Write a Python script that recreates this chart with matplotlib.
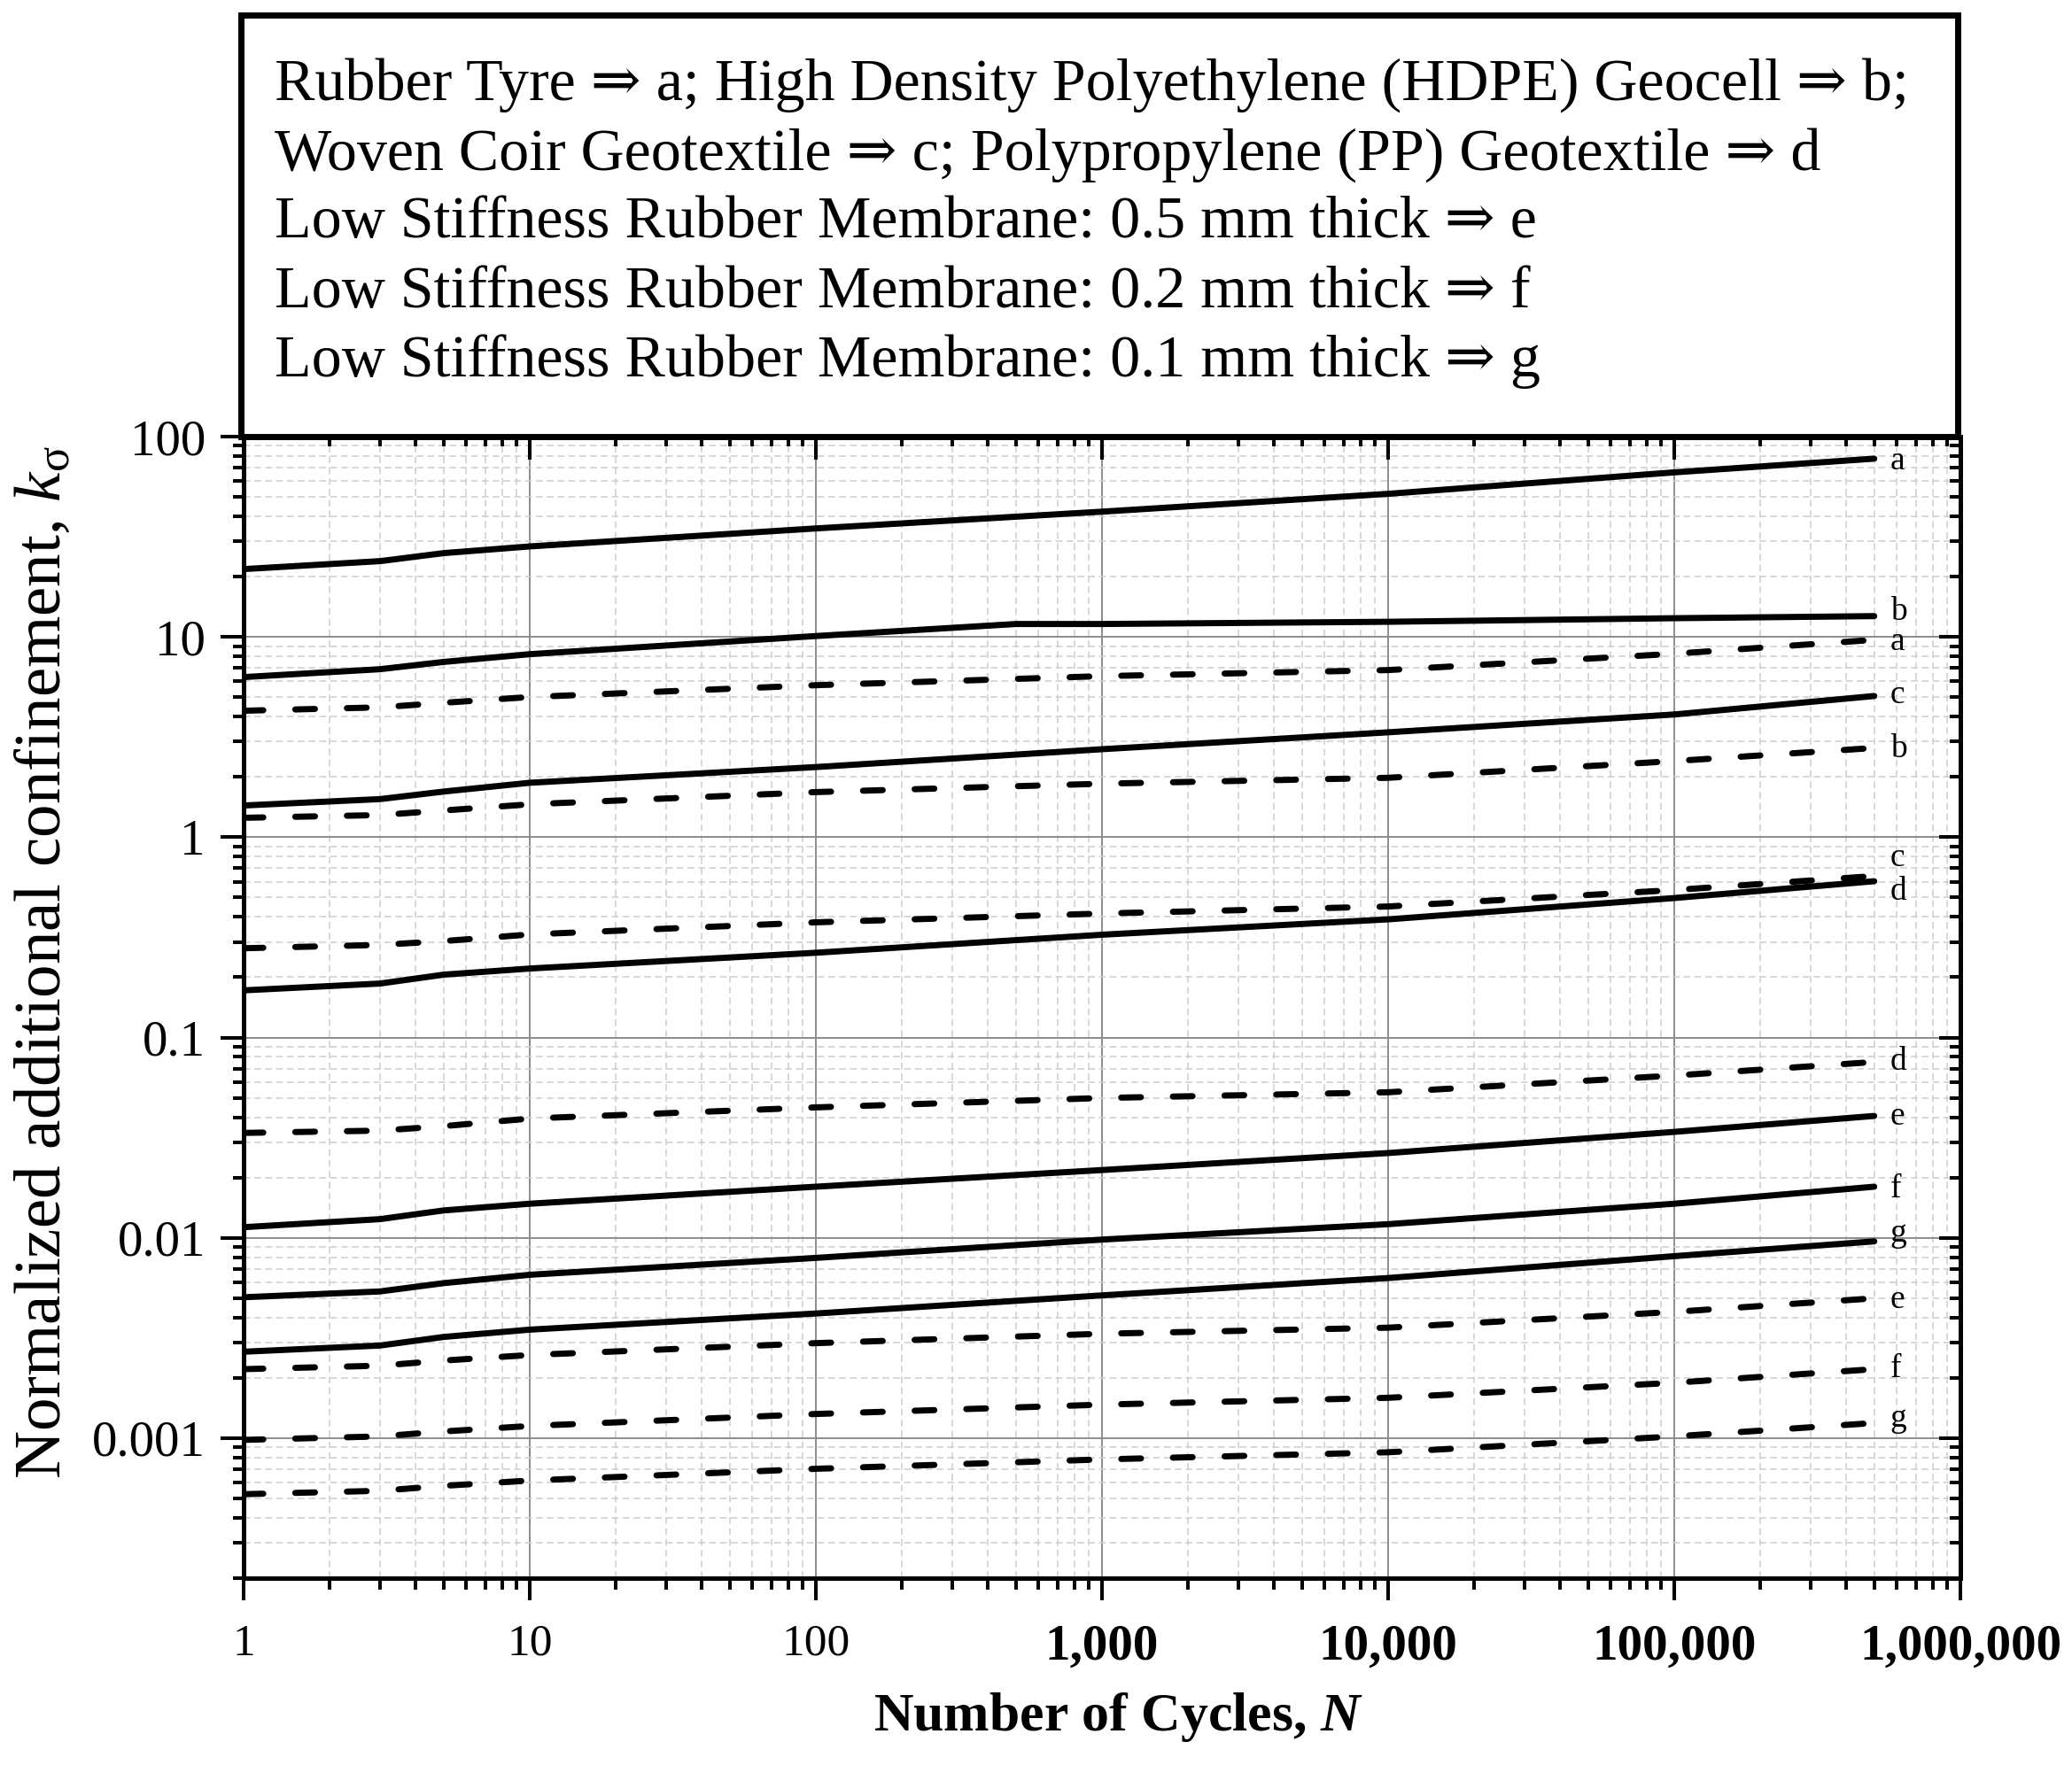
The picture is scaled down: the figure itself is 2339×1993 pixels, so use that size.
import numpy as np
import matplotlib
matplotlib.use('Agg')
import matplotlib.pyplot as plt
from matplotlib.ticker import LogLocator, NullFormatter, FixedLocator
from matplotlib.patches import Rectangle

plt.rcParams['font.family'] = ['Liberation Serif', 'DejaVu Serif']
plt.rcParams['mathtext.fontset'] = 'custom'
plt.rcParams['mathtext.rm'] = 'Liberation Serif'
plt.rcParams['mathtext.it'] = 'Liberation Serif:italic'
plt.rcParams['mathtext.bf'] = 'Liberation Serif:bold'
plt.rcParams['mathtext.bfit'] = 'Liberation Serif:italic:bold'

# ---------------- data ----------------
N = [1, 3, 5, 10, 100, 1000, 10000, 100000, 500000]
N_b = [1, 3, 5, 10, 100, 500, 1000, 10000, 100000, 500000]

a_solid = [21.8, 23.9, 26.2, 28.3, 34.8, 42.2, 51.8, 66.3, 77.6]
b_solid = [6.3, 6.9, 7.5, 8.2, 10.1, 11.6, 11.6, 11.9, 12.4, 12.7]
c_solid = [1.44, 1.55, 1.69, 1.87, 2.24, 2.75, 3.34, 4.1, 5.07]
d_solid = [0.172, 0.186, 0.206, 0.221, 0.265, 0.326, 0.389, 0.497, 0.603]
e_solid = [0.0113, 0.0124, 0.0137, 0.0148, 0.018, 0.0218, 0.0265, 0.0338, 0.0406]
f_solid = [0.00505, 0.0054, 0.00594, 0.00654, 0.00794, 0.0098, 0.0117, 0.0148, 0.018]
g_solid = [0.0027, 0.0029, 0.0032, 0.00348, 0.00419, 0.00516, 0.0063, 0.0081, 0.0096]

a_dashed = [4.28, 4.45, 4.69, 5.01, 5.74, 6.37, 6.83, 8.24, 9.67]
b_dashed = [1.25, 1.29, 1.36, 1.46, 1.68, 1.85, 1.98, 2.4, 2.79]
c_dashed = [0.279, 0.29, 0.303, 0.327, 0.376, 0.416, 0.451, 0.545, 0.64]
d_dashed = [0.0334, 0.0343, 0.0361, 0.0394, 0.0448, 0.0499, 0.0533, 0.0646, 0.0755]
e_dashed = [0.00221, 0.0023, 0.00244, 0.0026, 0.00298, 0.00332, 0.00356, 0.00427, 0.00499]
f_dashed = [0.00098, 0.00102, 0.00108, 0.00115, 0.00132, 0.00147, 0.00159, 0.00189, 0.00221]
g_dashed = [0.000525, 0.000546, 0.000578, 0.000614, 0.000703, 0.000783, 0.00085, 0.00102, 0.00119]

curve_labels = ['a', 'b', 'c', 'd', 'e', 'f', 'g']

x_ticks = [1, 10, 100, 1000, 10000, 100000, 1000000]
x_tick_labels = ['1', '10', '100', '1,000', '10,000', '100,000', '1,000,000']
y_ticks = [0.001, 0.01, 0.1, 1, 10, 100]
y_tick_labels = ['0.001', '0.01', '0.1', '1', '10', '100']

legend_lines = [
    'Rubber Tyre \u21d2 a; High Density Polyethylene (HDPE) Geocell \u21d2 b;',
    'Woven Coir Geotextile \u21d2 c; Polypropylene (PP) Geotextile \u21d2 d',
    'Low Stiffness Rubber Membrane: 0.5 mm thick \u21d2 e',
    'Low Stiffness Rubber Membrane: 0.2 mm thick \u21d2 f',
    'Low Stiffness Rubber Membrane: 0.1 mm thick \u21d2 g',
]
x_label = r'Number of Cycles, $\mathbfit{N}$'
y_label = r'Normalized additional confinement, $k_{\mathrm{\sigma}}$'

# ---------------- figure ----------------
fig = plt.figure(figsize=(23.39, 19.93), dpi=100)
ax = fig.add_axes([0.11757, 0.10587, 0.82856, 0.64676])
ax.set_xscale('log')
ax.set_yscale('log')
ax.set_xlim(1, 1e6)
ax.set_ylim(2e-4, 100)

minor_loc = lambda: LogLocator(base=10, subs=np.arange(2, 10), numticks=30)
ax.xaxis.set_major_locator(FixedLocator(x_ticks))
ax.xaxis.set_minor_locator(minor_loc())
ax.yaxis.set_major_locator(FixedLocator(y_ticks))
ax.yaxis.set_minor_locator(minor_loc())
ax.set_xticks(x_ticks, x_tick_labels)
ax.set_yticks(y_ticks, y_tick_labels)
ax.xaxis.set_minor_formatter(NullFormatter())
ax.yaxis.set_minor_formatter(NullFormatter())

ax.grid(which='major', color='#8c8c8c', lw=1.4, ls='-')
ax.grid(which='minor', color='#cdcdcd', lw=1.1, ls=(0, (5, 3)))
ax.set_axisbelow(True)

ax.tick_params(axis='x', which='major', direction='out', length=18, width=2.9,
               pad=19, labelsize=37, top=False)
ax.tick_params(axis='x', which='minor', direction='out', length=9, width=2.9, top=False)
ax.tick_params(axis='y', which='major', direction='out', length=19, width=2.9,
               pad=12, labelsize=41, right=False)
ax.tick_params(axis='y', which='minor', direction='out', length=9, width=2.9, right=False)

for lbl in ax.get_xticklabels():
    if len(lbl.get_text()) > 3:
        lbl.set_fontweight('bold')
        lbl.set_fontsize(41)

# top ticks (inward)
axt = ax.twiny()
axt.set_xscale('log')
axt.set_xlim(1, 1e6)
axt.xaxis.set_major_locator(FixedLocator(x_ticks))
axt.xaxis.set_minor_locator(minor_loc())
axt.xaxis.set_minor_formatter(NullFormatter())
axt.tick_params(axis='x', which='major', direction='in', length=19, width=2.9,
                labeltop=False, top=True, bottom=False)
axt.tick_params(axis='x', which='minor', direction='in', length=8, width=2.9,
                top=True, bottom=False)

# right ticks (inward)
axr = ax.twinx()
axr.set_yscale('log')
axr.set_ylim(2e-4, 100)
axr.yaxis.set_major_locator(FixedLocator(y_ticks))
axr.yaxis.set_minor_locator(minor_loc())
axr.yaxis.set_minor_formatter(NullFormatter())
axr.tick_params(axis='y', which='major', direction='in', length=17, width=2.9,
                labelright=False, right=True, left=False)
axr.tick_params(axis='y', which='minor', direction='in', length=9, width=2.9,
                right=True, left=False)

for a_ in (ax, axt, axr):
    for sp in a_.spines.values():
        sp.set_linewidth(3.6)

solid_series = [a_solid, b_solid, c_solid, d_solid, e_solid, f_solid, g_solid]
dashed_series = [a_dashed, b_dashed, c_dashed, d_dashed, e_dashed, f_dashed, g_dashed]
solid_dy = [-8.6, -3.2, -5.8, -15, -7, -8.5, 0]
dashed_dy = [-8.3, -7.2, 7.9, -6.5, -8, -6.5, -3]

LW = 5.0
for lab, ys, dy in zip(curve_labels, solid_series, solid_dy):
    xs = N_b if lab == 'b' else N
    ax.plot(xs, ys, color='black', lw=LW, solid_capstyle='round', zorder=3)
    ax.annotate(lab, xy=(xs[-1], ys[-1]), xytext=(13, dy), textcoords='offset points',
                fontsize=27, ha='left', va='baseline', annotation_clip=False)

for lab, ys, dy in zip(curve_labels, dashed_series, dashed_dy):
    line, = ax.plot(N, ys, color='black', lw=LW, zorder=3)
    line.set_dashes([3.2, 5.2])
    line.set_dash_capstyle('round')
    ax.annotate(lab, xy=(N[-1], ys[-1]), xytext=(13, dy), textcoords='offset points',
                fontsize=27, ha='left', va='baseline', annotation_clip=False)

# legend box
x0, x1 = 272 / 2339, 2210 / 2339
y0, y1 = 1 - 493 / 1993, 1 - 17 / 1993
fig.add_artist(Rectangle((x0, y0), x1 - x0, y1 - y0, transform=fig.transFigure,
                         fill=False, lw=5, ec='black', zorder=10))
baselines = [113, 192, 268, 347, 425]
for txt, b in zip(legend_lines, baselines):
    fig.text(310 / 2339, 1 - b / 1993, txt, fontsize=49, ha='left', va='baseline')

fig.text(1262 / 2339, 1 - 1939 / 1993, x_label, fontsize=44.5, fontweight='bold',
         ha='center', va='center')
fig.text(50 / 2339, 1 - 1087 / 1993, y_label, fontsize=54, rotation=90,
         ha='center', va='center')

fig.savefig('out.png', dpi=100)
